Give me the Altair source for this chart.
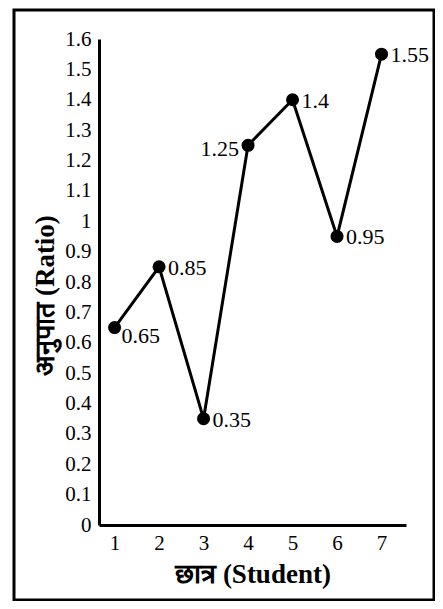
import altair as alt
import pandas as pd

students = [1, 2, 3, 4, 5, 6, 7]
ratios = [0.65, 0.85, 0.35, 1.25, 1.4, 0.95, 1.55]
labels = ["0.65", "0.85", "0.35", "1.25", "1.4", "0.95", "1.55"]
y_ticks = [0, 0.1, 0.2, 0.3, 0.4, 0.5, 0.6, 0.7, 0.8, 0.9, 1.0, 1.1, 1.2, 1.3, 1.4, 1.5, 1.6]
x_ticks = [1, 2, 3, 4, 5, 6, 7]

df = pd.DataFrame({"student": students, "ratio": ratios, "label": labels})

FONT = "Liberation Serif"

x = alt.X(
    "student:Q",
    scale=alt.Scale(domain=[0.65, 7.55], nice=False, zero=False),
    axis=alt.Axis(values=x_ticks, format="d", title="छात्र (Student)",
                  titlePadding=8, labelPadding=7),
)
y = alt.Y(
    "ratio:Q",
    scale=alt.Scale(domain=[0, 1.6], nice=False),
    axis=alt.Axis(values=y_ticks, labelExpr="format(datum.value, '~g')",
                  title="अनुपात (Ratio)", titlePadding=5, labelPadding=8, titleY=256),
)

base = alt.Chart(df)

line = base.mark_line(color="black", strokeWidth=3).encode(x=x, y=y)
pts = base.mark_circle(color="black", size=170, opacity=1).encode(x=x, y=y)

txt_style = dict(font=FONT, fontSize=22, color="black", baseline="middle")
lab_main = base.transform_filter(
    "datum.student != 1 && datum.student != 4"
).mark_text(align="left", dx=9, dy=1, **txt_style).encode(x=x, y=y, text="label:N")
lab_1 = base.transform_filter("datum.student == 1").mark_text(
    align="left", dx=7, dy=8, **txt_style).encode(x=x, y=y, text="label:N")
lab_4 = base.transform_filter("datum.student == 4").mark_text(
    align="right", dx=-9, dy=4, **txt_style).encode(x=x, y=y, text="label:N")

frame = alt.Chart(pd.DataFrame({"f": [0]})).mark_rect(
    filled=False, stroke="black", strokeWidth=3
).encode(x=alt.value(-85), x2=alt.value(335), y=alt.value(-29), y2=alt.value(561))

chart = alt.layer(frame, line, pts, lab_main, lab_1, lab_4).properties(
    width=307, height=486,
    autosize=alt.AutoSizeParams(type="none"),
    padding={"left": 91, "top": 31, "right": 29, "bottom": 76},
    background="white",
).configure_view(stroke=None).configure_axis(
    domainColor="black", domainWidth=3, ticks=False, grid=False,
    labelFont=FONT, labelFontSize=21, labelColor="black",
    titleFont=FONT, titleFontSize=27, titleFontWeight="bold", titleColor="black",
)

chart.save("out.html", embed_options={"renderer": "svg", "actions": False})
